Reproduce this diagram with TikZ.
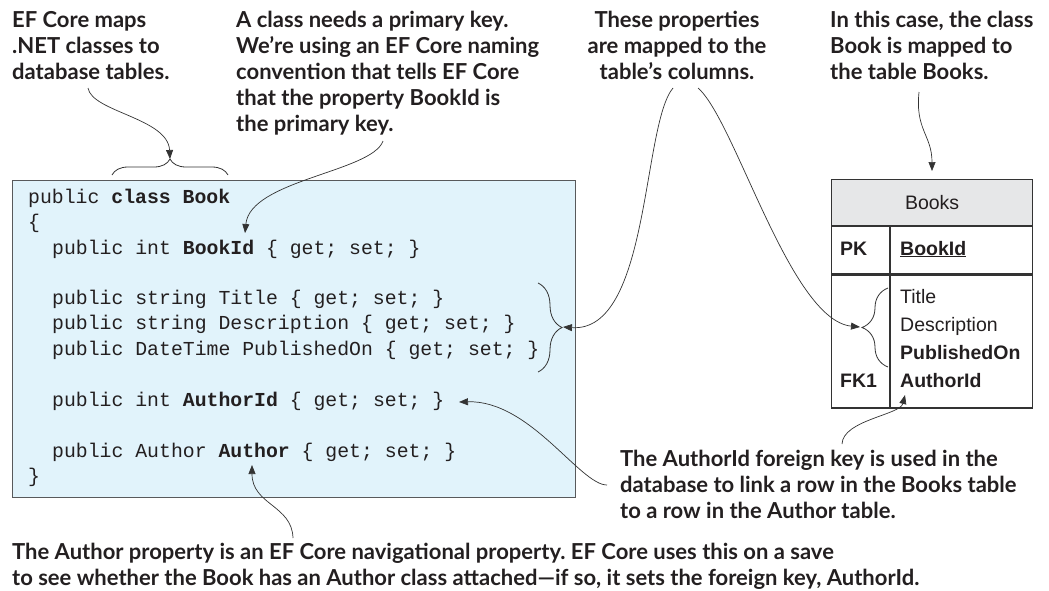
\documentclass[tikz,border=0pt]{standalone}
\usepackage{fontspec}
\setmainfont{Liberation Sans}
\newfontfamily\notefont{Lato}
\newfontfamily\codefont{Liberation Mono}
\usetikzlibrary{arrows.meta,positioning,decorations.pathreplacing}
\frenchspacing

\definecolor{codebg}{HTML}{E1F3FB}
\definecolor{frame}{HTML}{58595B}
\definecolor{headbg}{HTML}{E6E7E8}
\definecolor{ink}{HTML}{231F20}
\definecolor{wire}{HTML}{333333}

\begin{document}
\begin{tikzpicture}[
    x=1pt, y=-1pt,
    note/.style={
        font=\notefont\bfseries\fontsize{22}{26}\selectfont,
        text=ink,
        inner sep=0pt,
        align=left
    },
    codeline/.style={
        font=\codefont\fontsize{19.8}{25.3}\selectfont,
        text=ink,
        anchor=base west,
        inner sep=0pt
    },
    codebox/.style={
        rectangle,
        draw=frame,
        line width=1.2pt,
        fill=codebg,
        anchor=north west,
        minimum width=563pt,
        minimum height=317pt
    },
    tabhead/.style={
        rectangle,
        draw=wire,
        line width=1.2pt,
        fill=headbg,
        minimum width=201pt,
        minimum height=46pt,
        font=\fontsize{19.5}{23}\selectfont,
        text=ink
    },
    tabrow/.style={
        rectangle,
        draw=wire,
        line width=1.2pt,
        minimum width=201pt
    },
    cell/.style={
        font=\fontsize{19.5}{23}\selectfont,
        text=ink,
        anchor=base west,
        inner sep=0pt
    },
    link/.style={
        -{Triangle[length=9pt,width=7pt]},
        line width=0.7pt,
        draw=wire
    },
    brc/.style={
        decorate,
        decoration={brace, amplitude=#1},
        line width=0.8pt,
        draw=wire
    }
]
\useasboundingbox (0,0) rectangle (1049,590);

% Class in code
\node[codebox] (bookclass) at (12,180) {};
\node[codeline] (c1) at (28,203) {public \textbf{class Book}};
\node[codeline] (c2) at (28,228) {\{};
\node[codeline] (c3) at (52,254) {public int \textbf{BookId} \{ get; set; \}};
\node[codeline] (c4) at (52,304) {public string Title \{ get; set; \}};
\node[codeline] (c5) at (52,329) {public string Description \{ get; set; \}};
\node[codeline] (c6) at (52,355) {public DateTime PublishedOn \{ get; set; \}};
\node[codeline] (c7) at (52,406) {public int \textbf{AuthorId} \{ get; set; \}};
\node[codeline] (c8) at (52,457) {public Author \textbf{Author} \{ get; set; \}};
\node[codeline] (c9) at (28,482) {\}};

% Table
\node[tabhead, anchor=north west] (books) at (831,179) {Books};
\node[tabrow, below=0pt of books, minimum height=47pt] (pkrow) {};
\node[tabrow, below=0pt of pkrow, minimum height=133pt] (colrow) {};
\draw[wire, line width=1.2pt] ([xshift=59pt]pkrow.north west) -- ([xshift=59pt]colrow.south west);
\node[cell] (pk) at (840,255) {\bfseries PK};
\node[cell] (bookid) at (900,255) {\bfseries\underline{BookId}};
\node[cell] (title) at (900,303) {Title};
\node[cell] (descr) at (900,331) {Description};
\node[cell] (pubon) at (900,359) {\bfseries PublishedOn};
\node[cell] (fk) at (840,387) {\bfseries FK1};
\node[cell] (authid) at (900,387) {\bfseries AuthorId};

% Notes
\node[note, anchor=north west] (lblmaps) at (12,11) {EF Core maps\\.NET classes to\\database tables.};
\node[note, anchor=north west] (lblkey) at (236,11) {A class needs a primary key.\\We’re using an EF Core naming\\convention that tells EF Core\\that the property BookId is\\the primary key.};
\node[note, anchor=north, align=center] (lblcols) at (677,11) {These properties\\are mapped to the\\table’s columns.};
\node[note, anchor=north west] (lbltable) at (830,11) {In this case, the class\\Book is mapped to\\the table Books.};
\node[note, anchor=north west] (lblfk) at (620,450) {The AuthorId foreign key is used in the\\database to link a row in the Books table\\to a row in the Author table.};
\node[note, anchor=north west] (lblnav) at (12,543) {The Author property is an EF Core navigational property. EF Core uses this on a save\\to see whether the Book has an Author class attached—if so, it sets the foreign key, AuthorId.};

% Braces
\coordinate (classL) at (112,175);
\coordinate (classR) at (228,175);
\coordinate (classtip) at (170,159);
\draw[brc=16pt] (classL) -- (classR);
\coordinate (propsT) at (538,283);
\coordinate (propsB) at (538,372);
\coordinate (propstip) at (563,327);
\draw[brc=24pt] (propsT) -- (propsB);
\coordinate (colsB) at (888,367);
\coordinate (colsT) at (888,288);
\coordinate (colstip) at (860,327);
\draw[brc=26pt] (colsB) -- (colsT);

% Connector ends
\coordinate (mapsfoot) at (88,88);
\coordinate (keyfoot) at (383,141);
\coordinate (colsfootL) at (673,88);
\coordinate (colsfootR) at (698,88);
\coordinate (tablefoot) at (919,92);
\coordinate (fktop) at (842,444);
\coordinate (fkside) at (607,485);
\coordinate (navtop) at (293,538);
\coordinate (bookidtip) at (245,233);
\coordinate (authidtip) at (459,402);
\coordinate (authortip) at (252,465);
\coordinate (tabletip) at (932,171);
\coordinate (fktip) at (905,395);

% Arrows
\draw[link] (mapsfoot) .. controls (92,112) and (168,118) .. (classtip);
\draw[link] (keyfoot) .. controls (372,172) and (250,180) .. (bookidtip);
\draw[link] (colsfootL) .. controls (642,125) and (650,333) .. (propstip);
\draw[link] (colsfootR) .. controls (735,120) and (790,320) .. (colstip);
\draw[link] (tablefoot) .. controls (915,130) and (932,135) .. (tabletip);
\draw[link] (fktop) .. controls (843,420) and (900,415) .. (fktip);
\draw[link] (fkside) .. controls (580,485) and (530,400) .. (authidtip);
\draw[link] (navtop) .. controls (292,505) and (252,505) .. (authortip);

\end{tikzpicture}
\end{document}
